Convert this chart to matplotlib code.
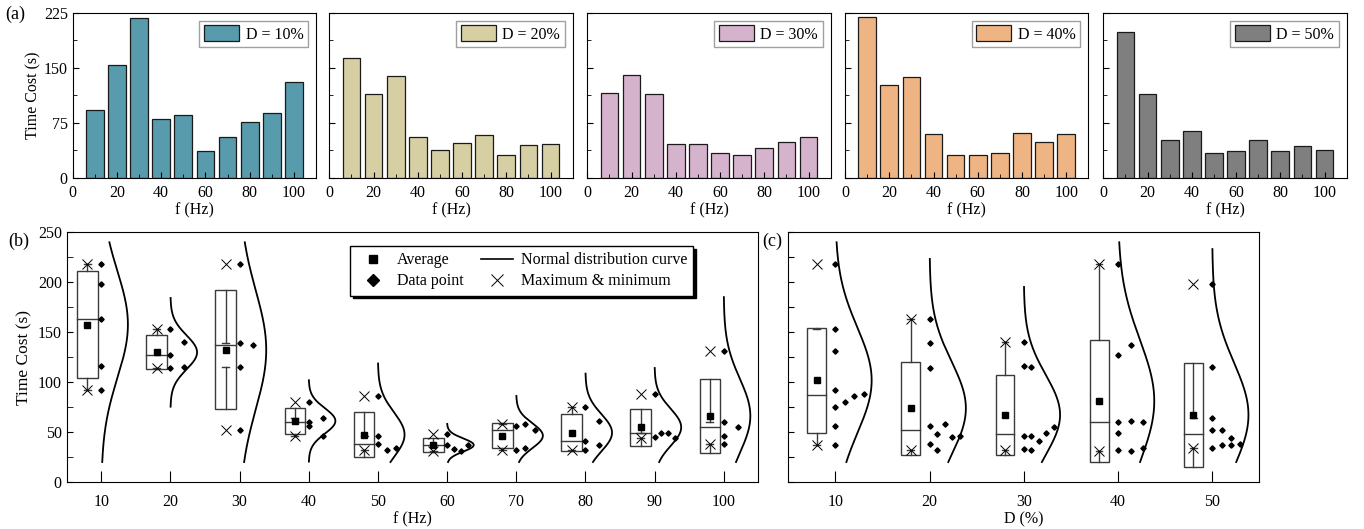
import numpy as np
import matplotlib
matplotlib.use('Agg')
import matplotlib.pyplot as plt
from matplotlib.lines import Line2D
from matplotlib.patches import Rectangle
from matplotlib.ticker import MultipleLocator

plt.rcParams['font.family'] = 'Liberation Serif'
plt.rcParams['font.size'] = 11

# Time cost (s) for each duty ratio D across frequencies f
freqs = [10, 20, 30, 40, 50, 60, 70, 80, 90, 100]
duty = [10, 20, 30, 40, 50]
cost_d10 = [92.6, 153.6, 218.3, 80.4, 85.9, 36.6, 56.0, 75.5, 87.7, 131.0]
cost_d20 = [163.0, 113.9, 138.7, 56.0, 38.4, 47.9, 57.8, 31.6, 44.7, 46.5]
cost_d30 = [115.7, 140.0, 114.8, 45.6, 46.5, 33.0, 31.6, 41.1, 48.8, 55.1]
cost_d40 = [218.7, 126.8, 137.4, 60.0, 31.6, 30.7, 34.3, 61.5, 48.8, 60.0]
cost_d50 = [198.4, 114.8, 52.0, 63.7, 34.3, 37.0, 52.0, 37.0, 43.8, 38.4]
bar_colors = ['#589BAC', '#D6CFA3', '#D6B3CC', '#EFB483', '#7F7F7F']

costs = np.array([cost_d10, cost_d20, cost_d30, cost_d40, cost_d50])

W, H = 1364, 529
fig = plt.figure(figsize=(W / 100, H / 100), dpi=100)

def frac(x0, y0, x1, y1):
    # pixel box -> figure fraction
    return [x0 / W, 1 - y1 / H, (x1 - x0) / W, (y1 - y0) / H]

# ---- (a) bar charts ----
lefts = [72.7, 329.3, 587.3, 845.0, 1103.3]
for i, d in enumerate(duty):
    ax = fig.add_axes(frac(lefts[i], 12.7, lefts[i] + 243.4, 177.7))
    ax.bar(freqs, costs[i], width=8, color=bar_colors[i], edgecolor='#1a1a1a',
           linewidth=0.9, label='D = {}%'.format(d))
    ax.set_xlim(0, 110)
    ax.set_ylim(0, 225)
    ax.xaxis.set_major_locator(MultipleLocator(20))
    ax.xaxis.set_minor_locator(MultipleLocator(10))
    ax.yaxis.set_major_locator(MultipleLocator(75))
    ax.yaxis.set_minor_locator(MultipleLocator(37.5))
    ax.tick_params(which='both', direction='in', labelsize=11.5)
    ax.tick_params(which='major', length=4)
    ax.tick_params(which='minor', length=3)
    ax.tick_params(axis='x', pad=5)
    ax.set_xlabel('f (Hz)', labelpad=1, fontsize=11.5)
    if i == 0:
        ax.set_ylabel('Time Cost (s)', labelpad=2, fontsize=11.5)
    else:
        ax.tick_params(axis='y', labelleft=False)
    leg = ax.legend(loc='upper right', fancybox=False, edgecolor='#888888',
                    handlelength=2.2, handleheight=1.1, handletextpad=0.4,
                    borderpad=0.3, fontsize=11.5)
    leg.get_frame().set_linewidth(1.0)

fig.text(5 / W, 1 - 14 / H, '(a)', fontsize=13, va='center')

box_c = '#3a3a3a'

def draw_group(ax, pos, vals, box_w, cap_w):
    vals = np.asarray(vals)
    m = vals.mean()
    sd = vals.std(ddof=1)
    med = np.median(vals)
    q1, q3 = np.percentile(vals, [25, 75])
    iqr = q3 - q1
    lo = vals[vals >= q1 - 1.5 * iqr].min()
    hi = vals[vals <= q3 + 1.5 * iqr].max()
    bx = pos - 2
    ax.add_patch(Rectangle((bx - box_w / 2, m - sd), box_w, 2 * sd, fill=False,
                           ec=box_c, lw=1.0, zorder=2))
    ax.plot([bx - box_w / 2, bx + box_w / 2], [med, med], color=box_c, lw=1.0, zorder=2)
    ax.plot([bx, bx], [m - sd, lo], color=box_c, lw=1.0, zorder=2)
    ax.plot([bx, bx], [m + sd, hi], color=box_c, lw=1.0, zorder=2)
    ax.plot([bx - cap_w / 2, bx + cap_w / 2], [lo, lo], color=box_c, lw=1.0, zorder=2)
    ax.plot([bx - cap_w / 2, bx + cap_w / 2], [hi, hi], color=box_c, lw=1.0, zorder=2)
    ax.plot(bx, m, 's', color='k', ms=5, zorder=4)
    ax.plot([bx, bx], [vals.min(), vals.max()], 'x', ls='none', color='k',
            ms=6.5, mew=0.7, zorder=4)
    # data points, spread sideways inside bins of 20 s
    bins = (vals // 20).astype(int)
    slots = np.zeros(len(vals))
    seen = {}
    for k, b in enumerate(bins):
        slots[k] = seen.get(b, 0)
        seen[b] = seen.get(b, 0) + 1
    step = 4.0 / max(seen.values())
    ax.plot(pos + slots * step, vals, 'D', ls='none', color='k', ms=2.7, zorder=3)
    # normal distribution curve
    y = np.linspace(max(20, m - 3.2 * sd), min(240, m + 3.2 * sd), 300)
    ax.plot(pos + 3.85 * np.exp(-0.5 * ((y - m) / sd) ** 2), y, color='k', lw=1.3, zorder=3)

# ---- (b) grouped by frequency ----
axb = fig.add_axes(frac(66.7, 232.3, 758.3, 482.0))
for j, f in enumerate(freqs):
    draw_group(axb, f, costs[:, j], 3.0, 1.0)
axb.set_xlim(5, 105)
axb.set_ylim(0, 250)
axb.set_xticks(freqs)
axb.yaxis.set_major_locator(MultipleLocator(50))
axb.yaxis.set_minor_locator(MultipleLocator(25))
axb.tick_params(which='both', direction='in', labelsize=11.5)
axb.tick_params(axis='x', length=8, pad=9)
axb.tick_params(axis='y', which='both', length=4)
axb.set_xlabel('f (Hz)', labelpad=1, fontsize=11.5)
axb.set_ylabel('Time Cost (s)', labelpad=4, fontsize=12.5)

handles = [
    Line2D([], [], marker='s', color='k', ls='none', ms=6),
    Line2D([], [], marker='D', color='k', ls='none', ms=6),
    Line2D([], [], color='k', lw=1.2),
    Line2D([], [], marker='x', color='k', ls='none', ms=9, mew=0.7),
]
labels = ['Average', 'Data point', 'Normal distribution curve', 'Maximum & minimum']
leg = axb.legend(handles, labels, ncol=2, loc='upper left', bbox_to_anchor=(0.41, 0.945),
                 borderaxespad=0, fancybox=False, edgecolor='k',
                 shadow={'color': 'k', 'alpha': 1},
                 handlelength=2.0, columnspacing=1.1, labelspacing=0.3,
                 borderpad=0.4, handletextpad=0.5, fontsize=11.5)
leg.get_frame().set_linewidth(1.0)
fig.text(8 / W, 1 - 241 / H, '(b)', fontsize=13, va='center')

# ---- (c) grouped by duty ratio ----
axc = fig.add_axes(frac(788.3, 232.3, 1259.3, 482.0))
for i, d in enumerate(duty):
    draw_group(axc, d, costs[i], 2.0, 0.7)
axc.set_xlim(5, 55)
axc.set_ylim(0, 250)
axc.set_xticks(duty)
axc.yaxis.set_major_locator(MultipleLocator(25))
axc.tick_params(which='both', direction='in', labelsize=11.5)
axc.tick_params(axis='x', length=8, pad=9)
axc.tick_params(axis='y', length=4, labelleft=False)
axc.set_xlabel('D (%)', labelpad=1, fontsize=11.5)
fig.text(762 / W, 1 - 241 / H, '(c)', fontsize=13, va='center')

fig.savefig('out.png', dpi=100)
